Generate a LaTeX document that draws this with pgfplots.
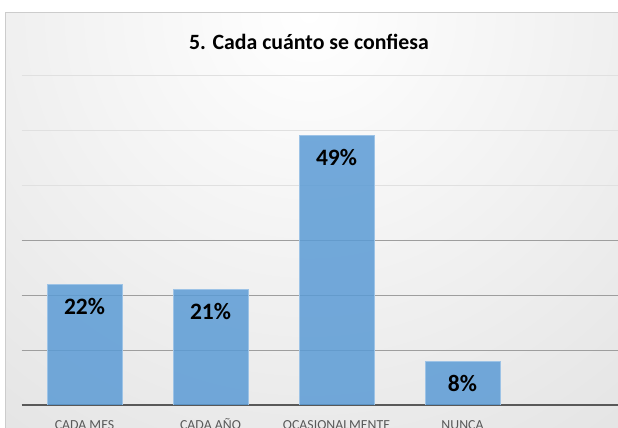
\documentclass[border=0pt]{standalone}
\usepackage{pgfplots}
\pgfplotsset{compat=1.18}
\usepackage{fontspec}
\setmainfont{Carlito}
\definecolor{barblue}{HTML}{5B9BD5}
\definecolor{baredge}{HTML}{9DC3E6}
\definecolor{labgray}{HTML}{595959}

\begin{document}
\begin{tikzpicture}[x=1pt,y=1pt]
\useasboundingbox (0,0) rectangle (618,428);
\clip (0,0) rectangle (618,428);
\fill[white] (0,0) rectangle (618,428);
% chart area background
\begin{scope}
  \clip (5,-20) rectangle (640,415);
  \shade[inner color=white, outer color=black!24] (309,415) circle (1200);
\end{scope}
\draw[black!20, line width=1pt] (5,-20) rectangle (640,415);
\node[anchor=base, font=\bfseries\fontsize{21.8}{26}\selectfont] at (309,378) {5. Cada cuánto se confiesa};

\begin{axis}[
  at={(21.5pt,23pt)}, anchor=south west,
  scale only axis, width=604.8pt, height=330pt,
  xmin=-0.5, xmax=4.3, ymin=0, ymax=60,
  ybar, bar width=75pt,
  axis x line*=bottom, axis y line*=left,
  x axis line style={draw=labgray, line width=2.5pt, -},
  y axis line style={draw=none},
  tick style={draw=none},
  xtick={0,1,2,3},
  xticklabels={CADA MES, CADA AÑO, OCASIONALMENTE, NUNCA},
  xticklabel style={font=\fontsize{13.8}{15}\selectfont, text=labgray, anchor=base, yshift=-20.5pt},
  ytick={10,20,30}, minor ytick={40,50,60}, yticklabels={},
  ymajorgrids, yminorgrids,
  major grid style={black!38, line width=1pt},
  minor grid style={black!12, line width=1pt},
  nodes near coords={\pgfmathprintnumber[assume math mode=true]{\pgfplotspointmeta}\%},
  nodes near coords style={font=\bfseries\fontsize{23.5}{26}\selectfont, anchor=base, yshift=-30pt, text=black, text opacity=1},
]
\addplot[fill=barblue, fill opacity=0.85, draw=baredge, line width=0.75pt] coordinates {(0,22) (1,21) (2,49) (3,8)};
\end{axis}
\end{tikzpicture}
\end{document}
